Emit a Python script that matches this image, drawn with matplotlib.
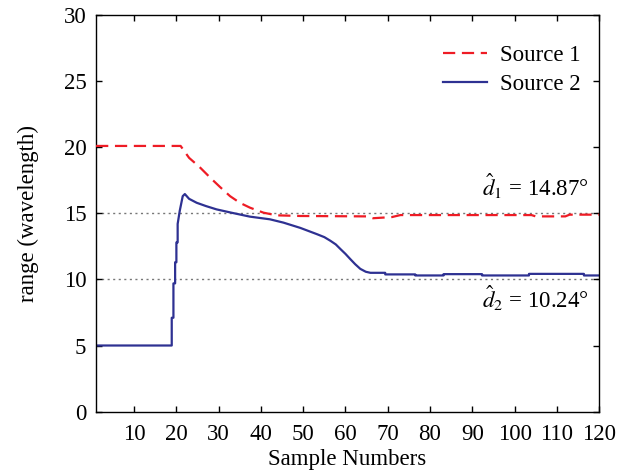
import matplotlib
matplotlib.use('Agg')
import matplotlib.pyplot as plt

# range estimates per sample for the two sources
src1_x = [1, 21, 23, 25.5, 28, 30.3, 32.7, 35, 37.4, 40.6, 43.7, 49.3, 65,
          66.5, 71, 73, 104, 105, 112, 113, 120]
src1_y = [20.1, 20.1, 19.2, 18.5, 17.7, 17.0, 16.3, 15.8, 15.43, 15.05, 14.85,
          14.8, 14.77, 14.63, 14.72, 14.87, 14.87, 14.77, 14.77, 14.9, 14.9]

src2_x = [1, 18.9, 18.9, 19.3, 19.3, 19.7, 19.7, 20.0, 20.0, 20.3, 20.3, 20.8,
          21.5, 22.0, 23.0, 24.8, 27.0, 29.5, 33.0, 37.4, 42.1, 45.3, 49.3,
          53.2, 55.0, 56.4, 57.7, 58.8, 60.0, 61.1, 62.3, 63.5, 64.8, 65.9,
          69.4, 69.4, 76.5, 76.5, 83.2, 83.2, 92.3, 92.3, 103.4, 103.4,
          116.4, 116.4, 120]
src2_y = [5.0, 5.0, 7.1, 7.1, 9.7, 9.7, 11.3, 11.3, 12.8, 12.8, 14.2, 15.2,
          16.3, 16.46, 16.1, 15.8, 15.55, 15.3, 15.05, 14.75, 14.55, 14.3, 13.9,
          13.43, 13.2, 12.93, 12.65, 12.3, 11.93, 11.55, 11.15, 10.8, 10.58, 10.5,
          10.5, 10.38, 10.38, 10.3, 10.3, 10.4, 10.4, 10.3, 10.3, 10.42,
          10.42, 10.3, 10.3]

ref_levels = [15, 10]
ref_labels = [r'$\hat{d}_1$ = 14.87°', r'$\hat{d}_2$ = 10.24°']
ref_label_y = [16.3, 7.85]

xticks = list(range(10, 121, 10))
yticks = list(range(0, 31, 5))

plt.rcParams['font.family'] = 'serif'
plt.rcParams['font.serif'] = ['Liberation Serif', 'DejaVu Serif']
plt.rcParams['mathtext.fontset'] = 'stix'

fig = plt.figure(figsize=(6.32, 4.72), dpi=100)
ax = fig.add_axes([0.152, 0.128, 0.796, 0.84])

for lvl in ref_levels:
    ax.axhline(lvl, color='#777777', linestyle=(0, (1.5, 2.5)), linewidth=1.0, zorder=1)

ax.plot(src1_x, src1_y, color='#ee1c25', linestyle=(0, (5.5, 3)), linewidth=1.6,
        label='Source 1', zorder=3)
ax.plot(src2_x, src2_y, color='#2e3192', linestyle='-', linewidth=1.6,
        label='Source 2', zorder=2)

for txt, ty in zip(ref_labels, ref_label_y):
    ax.text(117.6, ty, txt, ha='right', va='baseline', fontsize=16.5)

ax.set_xlim(1, 120)
ax.set_ylim(0, 30)
ax.set_xticks(xticks)
ax.set_yticks(yticks)
ax.tick_params(direction='in', top=True, right=True, length=4, width=1,
               labelsize=16.5)
ax.tick_params(axis='x', pad=9)
ax.tick_params(axis='y', pad=7)
for sp in ax.spines.values():
    sp.set_linewidth(1.0)

ax.set_xlabel('Sample Numbers', fontsize=16.5, labelpad=3)
ax.set_ylabel('range (wavelength)', fontsize=16.5, labelpad=18)

ax.legend(loc='upper right', bbox_to_anchor=(1.008, 0.982), frameon=False,
          fontsize=16.5, handlelength=1.9, handletextpad=0.55,
          labelspacing=0.32, borderaxespad=0.6)

fig.savefig('out.png', dpi=100)
